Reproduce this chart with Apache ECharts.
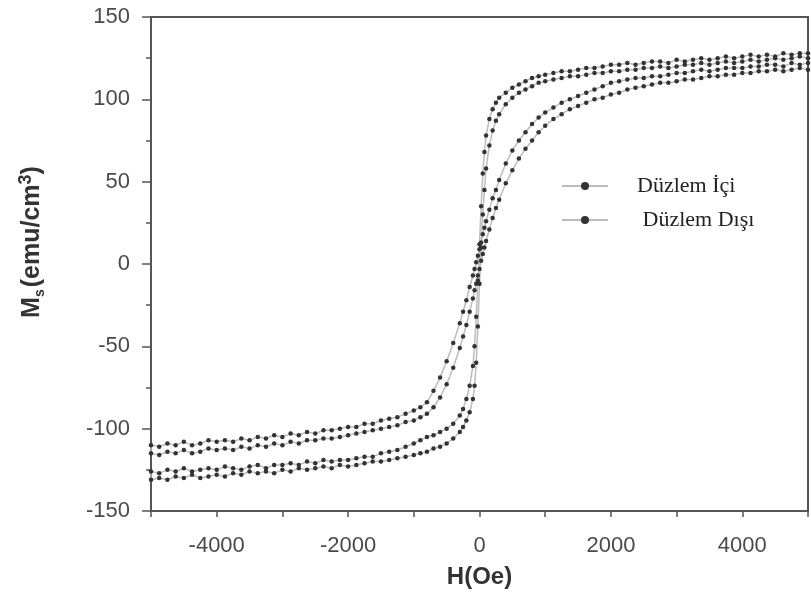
<!DOCTYPE html>
<html>
<head>
<meta charset="utf-8">
<script src="https://cdn.jsdelivr.net/npm/echarts@6.0.0/dist/echarts.min.js"></script>
<style>
  html, body { margin: 0; padding: 0; background: #fff; }
  #chart { width: 811px; height: 613px; }
</style>
</head>
<body>
<div id="chart"></div>
<script>
// ===== 数据 =====
// H 轴取样点 (Oe)
const hGrid = [
  -5000, -4875, -4750, -4625, -4500, -4375, -4250, -4125, -4000, -3875, -3750, -3625, -3500, -3375, -3250, -3125, -3000,
  -2875, -2750, -2625, -2500, -2375, -2250, -2125, -2000, -1875, -1750, -1625, -1500, -1375, -1250, -1125, -1000,
  -900, -800, -700, -600, -500, -400, -300, -250, -200, -150, -100, -75, -50, -25, 0,
  25, 50, 75, 100, 150, 200, 250, 300, 400, 500, 600, 700, 800, 900,
  1000, 1125, 1250, 1375, 1500, 1625, 1750, 1875, 2000, 2125, 2250, 2375, 2500, 2625, 2750, 2875, 3000,
  3125, 3250, 3375, 3500, 3625, 3750, 3875, 4000, 4125, 4250, 4375, 4500, 4625, 4750, 4875, 5000
];

// Düzlem İçi — azalan dal (H: +5000 -> -5000), hGrid sırasıyla
const inDesc = [
  -126, -127, -125, -126, -124, -126, -125, -124, -125, -123, -124, -125, -123, -122, -124, -122, -122,
  -121, -122, -120, -121, -119, -120, -119, -119, -118, -117, -117, -115, -114, -113, -111, -109,
  -107, -105, -104, -102, -100, -97, -92, -88, -82, -74, -62, -50, -32, -10, 12,
  35, 55, 68, 78, 88, 94, 98, 101, 104, 107, 109, 111, 113, 114,
  115, 116, 117, 117, 118, 119, 119, 120, 121, 121, 122, 121, 122, 123, 123, 122, 124,
  123, 124, 125, 124, 125, 126, 125, 126, 127, 126, 127, 126, 128, 127, 128, 128
];
// Düzlem İçi — artan dal
const inAsc = [
  -131, -130, -131, -129, -130, -128, -130, -129, -128, -129, -127, -128, -126, -127, -126, -127, -125,
  -126, -124, -125, -124, -123, -124, -122, -123, -122, -121, -120, -120, -119, -118, -117, -116,
  -115, -114, -112, -111, -109, -106, -102, -99, -95, -90, -82, -74, -60, -38, -12,
  10, 30, 45, 58, 72, 81, 87, 91, 97, 101, 104, 106, 108, 110,
  111, 112, 113, 114, 114, 115, 116, 116, 117, 117, 118, 118, 119, 119, 120, 119, 120,
  121, 121, 122, 121, 122, 123, 122, 123, 124, 123, 124, 125, 124, 125, 126, 125
];

// Düzlem Dışı — azalan dal
const outDesc = [
  -110, -111, -109, -110, -108, -110, -109, -107, -108, -107, -108, -106, -107, -105, -106, -104, -105,
  -103, -104, -102, -103, -101, -101, -100, -99, -99, -97, -97, -95, -94, -93, -91, -89,
  -87, -84, -77, -69, -59, -48, -36, -29, -22, -14, -7, -3, 1, 5, 9,
  13, 18, 22, 26, 33, 40, 45, 51, 61, 69, 75, 80, 85, 89,
  92, 95, 98, 100, 102, 104, 106, 108, 110, 111, 112, 113, 113, 114, 114, 115, 116,
  116, 117, 118, 117, 118, 119, 119, 119, 120, 120, 121, 121, 120, 122, 121, 122
];
// Düzlem Dışı — artan dal
const outAsc = [
  -115, -116, -114, -115, -113, -115, -114, -112, -113, -112, -113, -111, -112, -110, -111, -109, -110,
  -108, -109, -107, -107, -106, -106, -105, -104, -103, -102, -101, -100, -99, -98, -96, -95,
  -93, -91, -87, -81, -73, -63, -51, -44, -37, -29, -21, -16, -12, -7, -3,
  2, 6, 10, 14, 21, 28, 34, 39, 49, 57, 64, 70, 75, 80,
  84, 88, 91, 94, 96, 98, 100, 101, 103, 104, 106, 107, 108, 109, 110, 110, 111,
  112, 112, 113, 114, 114, 115, 115, 116, 116, 117, 117, 118, 117, 118, 119, 118
];

const seriesNames = ['Düzlem İçi', 'Düzlem Dışı'];
const xLabels = [-4000, -2000, 0, 2000, 4000];

// azalan dal (ters sırada) + artan dal => kapalı histerezis döngüsü
function buildLoop(desc, asc) {
  const pts = [];
  for (let i = hGrid.length - 1; i >= 0; i--) pts.push([hGrid[i], desc[i]]);
  for (let i = 0; i < hGrid.length; i++) pts.push([hGrid[i], asc[i]]);
  return pts;
}

const chart = echarts.init(document.getElementById('chart'));

const sans = 'Liberation Sans, Arial, sans-serif';
const tickFont = { fontFamily: sans, fontSize: 22, color: '#4a4a4a' };

function loopSeries(name, data) {
  return {
    name: name,
    type: 'line',
    data: data,
    symbol: 'circle',
    symbolSize: 4.5,
    showSymbol: true,
    clip: true,
    itemStyle: { color: '#333' },
    lineStyle: { color: '#bcbcbc', width: 1.5 },
    emphasis: { disabled: true }
  };
}

chart.setOption({
  animation: false,
  backgroundColor: '#fff',
  grid: {
    left: 151, right: -4, top: 17, bottom: 102,
    show: true, borderColor: '#555', borderWidth: 2
  },
  legend: {
    orient: 'vertical',
    left: 556, top: 170,
    itemWidth: 46, itemHeight: 10, itemGap: 12,
    data: seriesNames,
    formatter: function (n) { return n === seriesNames[1] ? ' ' + n : n; },
    textStyle: { fontFamily: 'Liberation Serif, Times New Roman, serif', fontSize: 22, color: '#222', padding: [0, 0, 0, 24] }
  },
  xAxis: {
    type: 'value',
    min: -5000, max: 5000, interval: 1000,
    name: 'H(Oe)',
    nameLocation: 'middle',
    nameGap: 54,
    nameTextStyle: { fontFamily: sans, fontSize: 24, fontWeight: 'bold', color: '#333' },
    axisLine: { onZero: false, lineStyle: { color: '#555', width: 2 } },
    axisTick: { show: true, inside: false, length: 6, lineStyle: { color: '#555', width: 1.5 } },
    axisLabel: Object.assign({}, tickFont, {
      margin: 24,
      formatter: function (v) { return xLabels.indexOf(v) >= 0 ? String(v) : ''; }
    }),
    splitLine: { show: false }
  },
  yAxis: {
    type: 'value',
    min: -150, max: 150, interval: 50,
    name: '{b|M}{s|s}{b|(emu/cm}{p|3}{b|)}',
    nameLocation: 'middle',
    nameGap: 104,
    nameTextStyle: {
      color: '#333',
      padding: [0, 0, 0, 44],
      rich: {
        b: { fontFamily: sans, fontSize: 25, fontWeight: 'bold', color: '#333' },
        s: { fontFamily: sans, fontSize: 14, fontWeight: 'bold', color: '#333', verticalAlign: 'bottom', padding: [12, 2, 0, 0] },
        p: { fontFamily: sans, fontSize: 18, fontWeight: 'bold', color: '#333', verticalAlign: 'top', padding: [0, 0, 12, 0] }
      }
    },
    axisLine: { onZero: false, lineStyle: { color: '#555', width: 2 } },
    axisTick: { show: true, inside: false, length: 9, lineStyle: { color: '#555', width: 1.5 } },
    minorTick: { show: true, splitNumber: 2, length: 5, lineStyle: { color: '#555', width: 1.5 } },
    axisLabel: Object.assign({}, tickFont, { margin: 21 }),
    splitLine: { show: false }
  },
  series: [
    loopSeries(seriesNames[0], buildLoop(inDesc, inAsc)),
    loopSeries(seriesNames[1], buildLoop(outDesc, outAsc))
  ]
});
</script>
</body>
</html>
